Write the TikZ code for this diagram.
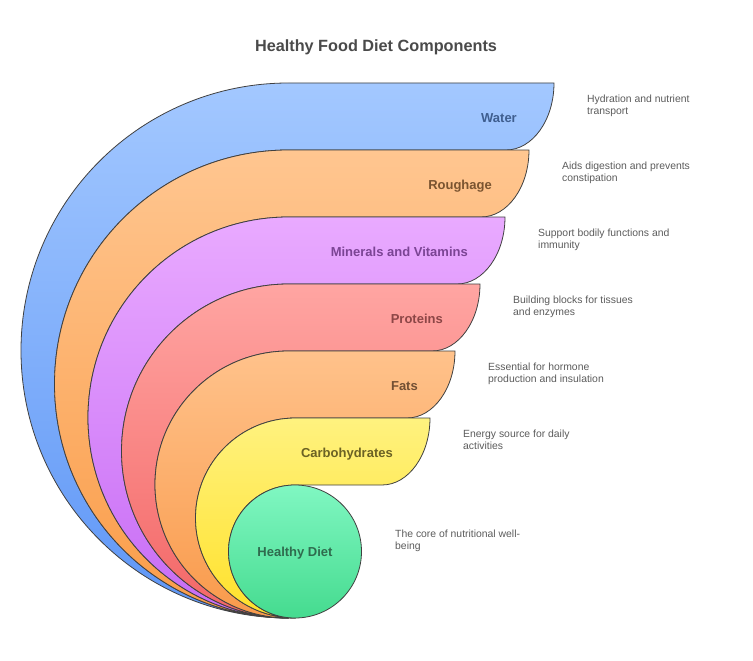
\documentclass[tikz,border=0pt]{standalone}
\usepackage{fontspec}
\setmainfont{Liberation Sans}
\usepackage{tikz}
\usetikzlibrary{positioning}

\definecolor{edge}{HTML}{404040}
\definecolor{titlecol}{HTML}{4A4A4A}
\definecolor{desccol}{HTML}{5C5C5C}
\definecolor{waterA}{HTML}{A3C8FF}
\definecolor{waterB}{HTML}{5E96F6}
\definecolor{roughA}{HTML}{FFC690}
\definecolor{roughB}{HTML}{FA9C48}
\definecolor{minA}{HTML}{E9AAFF}
\definecolor{minB}{HTML}{C76BF5}
\definecolor{protA}{HTML}{FFA5A2}
\definecolor{protB}{HTML}{F36666}
\definecolor{fatA}{HTML}{FFC28B}
\definecolor{fatB}{HTML}{F99A4B}
\definecolor{carbA}{HTML}{FFF27F}
\definecolor{carbB}{HTML}{FFE12A}
\definecolor{dietA}{HTML}{80F7C2}
\definecolor{dietB}{HTML}{45DB8F}
\definecolor{waterT}{HTML}{3F5E8F}
\definecolor{roughT}{HTML}{7A5430}
\definecolor{minT}{HTML}{7B4494}
\definecolor{protT}{HTML}{8C4646}
\definecolor{fatT}{HTML}{735034}
\definecolor{carbT}{HTML}{6B6224}
\definecolor{dietT}{HTML}{2F6B4E}

\begin{document}
\begin{tikzpicture}[x=1pt,y=1pt]
        \tikzstyle{band}=[draw=edge, line width=0.8pt, line join=round]
        \tikzstyle{lbl}=[anchor=base east, inner sep=0, font=\fontsize{13}{15}\selectfont\bfseries]
        \tikzstyle{desc}=[anchor=north west, inner sep=0, align=left, text=desccol, font=\fontsize{10.4}{12.5}\selectfont]

        \useasboundingbox (0,0) rectangle (753,-661);
        \fill[white] (0,0) rectangle (753,-661);

        \node (title) at (376,-52) [anchor=base, inner sep=0, text=titlecol, font=\fontsize{16.25}{19}\selectfont\bfseries] {Healthy Food Diet Components};

        \path[band, top color=waterA, bottom color=waterB] (288.5,-618) arc[start angle=270, end angle=90, radius=267.5] -- (554,-83) arc[start angle=0, end angle=-90, x radius=48, y radius=67] -- (288.5,-150) arc[start angle=90, end angle=270, radius=234] -- cycle;
        \path[band, top color=roughA, bottom color=roughB] (288.5,-618) arc[start angle=270, end angle=90, radius=234] -- (529,-150) arc[start angle=0, end angle=-90, x radius=48, y radius=67] -- (288.5,-217) arc[start angle=90, end angle=270, radius=200.5] -- cycle;
        \path[band, top color=minA, bottom color=minB] (288.5,-618) arc[start angle=270, end angle=90, radius=200.5] -- (505,-217) arc[start angle=0, end angle=-90, x radius=48, y radius=67] -- (288.5,-284) arc[start angle=90, end angle=270, radius=167] -- cycle;
        \path[band, top color=protA, bottom color=protB] (288.5,-618) arc[start angle=270, end angle=90, radius=167] -- (480,-284) arc[start angle=0, end angle=-90, x radius=48, y radius=67] -- (288.5,-351) arc[start angle=90, end angle=270, radius=133.5] -- cycle;
        \path[band, top color=fatA, bottom color=fatB] (288.5,-618) arc[start angle=270, end angle=90, radius=133.5] -- (455,-351) arc[start angle=0, end angle=-90, x radius=48, y radius=67] -- (295.5,-418) arc[start angle=90, end angle=270, radius=100] -- cycle;
        \path[band, top color=carbA, bottom color=carbB] (295.5,-618) arc[start angle=270, end angle=90, radius=100] -- (430,-418) arc[start angle=0, end angle=-90, x radius=48, y radius=67] -- (295,-485) arc[start angle=90, end angle=270, radius=66.5] -- cycle;

        \node (diet) at (295,-551.5) [circle, band, minimum size=133pt, inner sep=0, top color=dietA, bottom color=dietB, text=dietT, text depth=0pt, font=\fontsize{13}{15}\selectfont\bfseries] {Healthy Diet};

        \node (water)    at (517,-122) [lbl, text=waterT] {Water};
        \node (roughage) at (492,-189) [lbl, text=roughT] {Roughage};
        \node (minerals) at (468,-256) [lbl, text=minT] {Minerals and Vitamins};
        \node (proteins) at (443,-323) [lbl, text=protT] {Proteins};
        \node (fats)     at (418,-390) [lbl, text=fatT] {Fats};
        \node (carbs)    at (393,-457) [lbl, text=carbT] {Carbohydrates};

        \node (water d)    at (587,-94.5)  [desc] {Hydration and nutrient\\transport};
        \node (roughage d) at (562,-161.5) [desc] {Aids digestion and prevents\\constipation};
        \node (minerals d) at (538,-228.5) [desc] {Support bodily functions and\\immunity};
        \node (proteins d) at (513,-295.5) [desc] {Building blocks for tissues\\and enzymes};
        \node (fats d)     at (488,-362.5) [desc] {Essential for hormone\\production and insulation};
        \node (carbs d)    at (463,-429.5) [desc] {Energy source for daily\\activities};
        \node (diet d)     at (395,-529.5) [desc] {The core of nutritional well-\\being};

    \end{tikzpicture}
\end{document}
